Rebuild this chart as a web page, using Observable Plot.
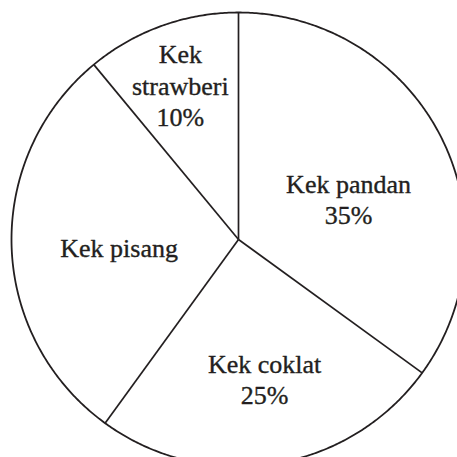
<!DOCTYPE html>
<html>
<head>
<meta charset="utf-8">
<script src="https://cdn.jsdelivr.net/npm/d3@7"></script>
<script src="https://cdn.jsdelivr.net/npm/@observablehq/plot@0.6"></script>
<style>
  html, body { margin: 0; padding: 0; background: white; overflow: hidden; }
</style>
</head>
<body>
<div id="chart"></div>
<script>
// Data (slice sizes as drawn) and the printed labels
const categories = ["Kek pandan", "Kek coklat", "Kek pisang", "Kek strawberi"];
const values = [35, 25, 29, 11];
const labels = ["Kek pandan\n35%", "Kek coklat\n25%", "Kek pisang", "Kek\nstrawberi\n10%"];

// Layout (not data): label placement inside each slice
const labelRadius = [0.517, 0.624, 0.527, 0.729];
const labelSpanFrac = [0.553, 0.482, 0.482, 0.48];

const W = 457, H = 457, CX = 238, CY = 239, R = 227;
const ink = "#231f20";

const total = d3.sum(values);
let acc = 0;
const slices = categories.map((c, i) => {
  const a0 = acc / total * 2 * Math.PI;
  acc += values[i];
  const a1 = acc / total * 2 * Math.PI;
  const am = a0 + (a1 - a0) * labelSpanFrac[i];
  return {category: c, value: values[i], label: labels[i], a0, a1,
          lx: Math.sin(am) * labelRadius[i], ly: Math.cos(am) * labelRadius[i]};
});

const outline = d3.range(0, 721).map(k => {
  const a = k / 720 * 2 * Math.PI;
  return {x: Math.sin(a), y: Math.cos(a)};
});

const chart = Plot.plot({
  width: W,
  height: H,
  margin: 0,
  x: {domain: [-CX / R, (W - CX) / R], axis: null},
  y: {domain: [-(H - CY) / R, CY / R], axis: null},
  marks: [
    Plot.line(outline, {x: "x", y: "y", stroke: ink, strokeWidth: 1.8}),
    Plot.link(slices, {
      x1: d => 0, y1: d => 0,
      x2: d => Math.sin(d.a0), y2: d => Math.cos(d.a0),
      stroke: ink, strokeWidth: 1.7
    }),
    Plot.text(slices, {
      x: "lx", y: "ly", text: "label",
      fontSize: 26, lineHeight: 1.2,
      fontFamily: "Liberation Serif",
      fill: ink, stroke: ink, strokeWidth: 0.35,
      textAnchor: "middle", lineAnchor: "middle"
    })
  ]
});
document.getElementById("chart").appendChild(chart);
</script>
</body>
</html>
